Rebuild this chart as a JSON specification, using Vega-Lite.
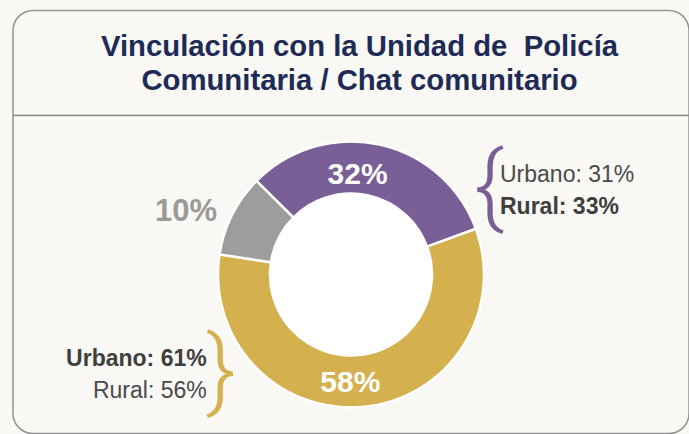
{
  "$schema": "https://vega.github.io/schema/vega-lite/v6.json",
  "background": "#f9f8f4",
  "padding": {"left": 12, "top": 9.5, "right": 0, "bottom": 0},
  "spacing": 0,
  "bounds": "flush",
  "config": {
    "font": "Liberation Sans",
    "view": {"stroke": null, "fill": null}
  },
  "datasets": {
    "titulo": [
      {"texto": "Vinculación con la Unidad de\u00a0 Policía\nComunitaria / Chat comunitario"}
    ],
    "segmentos": [
      {"grupo": "A", "pct": 32},
      {"grupo": "B", "pct": 58},
      {"grupo": "C", "pct": 10}
    ],
    "desglose": [
      {"grupo": "A", "zona": "Urbano", "pct": 31},
      {"grupo": "A", "zona": "Rural", "pct": 33},
      {"grupo": "B", "zona": "Urbano", "pct": 61},
      {"grupo": "B", "zona": "Rural", "pct": 56}
    ]
  },
  "vconcat": [
    {
      "width": 676,
      "height": 105,
      "data": {"name": "titulo"},
      "layer": [
        {
          "mark": {
            "type": "rect",
            "fill": "#f9f8f4",
            "stroke": "#939393",
            "strokeWidth": 1.5,
            "cornerRadiusTopLeft": 20,
            "cornerRadiusTopRight": 20
          },
          "encoding": {}
        },
        {
          "mark": {
            "type": "text",
            "lineBreak": "\n",
            "lineHeight": 33.6,
            "fontSize": 29.3,
            "fontWeight": "bold",
            "color": "#1d2b56",
            "align": "center",
            "baseline": "alphabetic",
            "dx": 8.5,
            "dy": -6.6
          },
          "encoding": {"text": {"field": "texto", "type": "nominal"}}
        }
      ]
    },
    {
      "width": 676,
      "height": 318,
      "layer": [
        {
          "data": {"name": "titulo"},
          "mark": {
            "type": "rect",
            "fill": "#f9f8f4",
            "stroke": "#939393",
            "strokeWidth": 1.5,
            "cornerRadiusBottomLeft": 20,
            "cornerRadiusBottomRight": 20
          },
          "encoding": {}
        },
        {
          "data": {"name": "segmentos"},
          "transform": [
            {"stack": "pct", "groupby": [], "sort": [{"field": "grupo", "order": "ascending"}], "as": ["p0", "p1"]}
          ],
          "mark": {"type": "arc", "innerRadius": 0, "outerRadius": 82, "color": "white", "stroke": "white", "strokeWidth": 2},
          "encoding": {
            "theta": {"field": "p0", "type": "quantitative", "stack": null, "scale": {"domain": [0, 100], "range": [-0.7906, 5.4926]}},
            "theta2": {"field": "p1"}
          }
        },
        {
          "data": {"name": "segmentos"},
          "transform": [
            {"stack": "pct", "groupby": [], "sort": [{"field": "grupo", "order": "ascending"}], "as": ["p0", "p1"]}
          ],
          "mark": {"type": "arc", "innerRadius": 81, "outerRadius": 133, "stroke": "white", "strokeWidth": 2.5},
          "encoding": {
            "theta": {"field": "p0", "type": "quantitative", "stack": null, "scale": {"domain": [0, 100], "range": [-0.7906, 5.4926]}},
            "theta2": {"field": "p1"},
            "color": {"field": "grupo", "type": "nominal", "legend": null, "scale": {"domain": ["A", "B", "C"], "range": ["#7a5e96", "#d4b04e", "#9d9d9b"]}}
          }
        },
        {
          "data": {"name": "segmentos"},
          "transform": [
            {"stack": "pct", "groupby": [], "sort": [{"field": "grupo", "order": "ascending"}], "as": ["p0", "p1"]},
            {"calculate": "(datum.p0 + datum.p1) / 2", "as": "pmid"},
            {"calculate": "datum.pct + '%'", "as": "etiqueta"},
            {"filter": "datum.grupo == 'A'"}
          ],
          "mark": {"type": "text", "radius": 103, "fontSize": 30, "fontWeight": "bold", "color": "white", "align": "center", "baseline": "middle", "dx": -15.4, "dy": 1},
          "encoding": {
            "theta": {"field": "pmid", "type": "quantitative", "stack": null, "scale": {"domain": [0, 100], "range": [-0.7906, 5.4926]}},
            "text": {"field": "etiqueta", "type": "nominal"}
          }
        },
        {
          "data": {"name": "segmentos"},
          "transform": [
            {"stack": "pct", "groupby": [], "sort": [{"field": "grupo", "order": "ascending"}], "as": ["p0", "p1"]},
            {"calculate": "(datum.p0 + datum.p1) / 2", "as": "pmid"},
            {"calculate": "datum.pct + '%'", "as": "etiqueta"},
            {"filter": "datum.grupo == 'B'"}
          ],
          "mark": {"type": "text", "radius": 107, "fontSize": 30, "fontWeight": "bold", "color": "white", "align": "center", "baseline": "middle", "dx": -11.3, "dy": 2},
          "encoding": {
            "theta": {"field": "pmid", "type": "quantitative", "stack": null, "scale": {"domain": [0, 100], "range": [-0.7906, 5.4926]}},
            "text": {"field": "etiqueta", "type": "nominal"}
          }
        },
        {
          "data": {"name": "segmentos"},
          "transform": [
            {"stack": "pct", "groupby": [], "sort": [{"field": "grupo", "order": "ascending"}], "as": ["p0", "p1"]},
            {"calculate": "(datum.p0 + datum.p1) / 2", "as": "pmid"},
            {"calculate": "datum.pct + '%'", "as": "etiqueta"},
            {"filter": "datum.grupo == 'C'"}
          ],
          "mark": {"type": "text", "radius": 178, "fontSize": 31, "fontWeight": "bold", "color": "#9b9b99", "align": "center", "baseline": "middle", "dx": -6, "dy": 17},
          "encoding": {
            "theta": {"field": "pmid", "type": "quantitative", "stack": null, "scale": {"domain": [0, 100], "range": [-0.7906, 5.4926]}},
            "text": {"field": "etiqueta", "type": "nominal"}
          }
        },
        {
          "data": {"name": "desglose"},
          "transform": [
            {"filter": "datum.grupo == 'A' && datum.zona == 'Urbano'"},
            {"calculate": "datum.zona + ': ' + datum.pct + '%'", "as": "etiqueta"}
          ],
          "mark": {"type": "text", "fontSize": 23, "fontWeight": "normal", "color": "#4a4a4a", "align": "left", "baseline": "alphabetic", "dx": 149, "dy": -92.5},
          "encoding": {"text": {"field": "etiqueta", "type": "nominal"}}
        },
        {
          "data": {"name": "desglose"},
          "transform": [
            {"filter": "datum.grupo == 'A' && datum.zona == 'Rural'"},
            {"calculate": "datum.zona + ': ' + datum.pct + '%'", "as": "etiqueta"}
          ],
          "mark": {"type": "text", "fontSize": 23, "fontWeight": "bold", "color": "#3f3f3f", "align": "left", "baseline": "alphabetic", "dx": 149, "dy": -60.2},
          "encoding": {"text": {"field": "etiqueta", "type": "nominal"}}
        },
        {
          "data": {"name": "desglose"},
          "transform": [
            {"filter": "datum.grupo == 'B' && datum.zona == 'Urbano'"},
            {"calculate": "datum.zona + ': ' + datum.pct + '%'", "as": "etiqueta"}
          ],
          "mark": {"type": "text", "fontSize": 23, "fontWeight": "bold", "color": "#3f3f3f", "align": "right", "baseline": "alphabetic", "dx": -144.3, "dy": 91.5},
          "encoding": {"text": {"field": "etiqueta", "type": "nominal"}}
        },
        {
          "data": {"name": "desglose"},
          "transform": [
            {"filter": "datum.grupo == 'B' && datum.zona == 'Rural'"},
            {"calculate": "datum.zona + ': ' + datum.pct + '%'", "as": "etiqueta"}
          ],
          "mark": {"type": "text", "fontSize": 23, "fontWeight": "normal", "color": "#4a4a4a", "align": "right", "baseline": "alphabetic", "dx": -144.3, "dy": 123.1},
          "encoding": {"text": {"field": "etiqueta", "type": "nominal"}}
        },
        {
          "data": {"name": "segmentos"},
          "transform": [{"filter": "datum.grupo == 'A'"}],
          "mark": {"type": "text", "text": "{", "font": "Roboto", "fontWeight": 300, "fontSize": 90, "color": "#7a5e96", "align": "center", "baseline": "middle", "dx": 138, "dy": -86},
          "encoding": {}
        },
        {
          "data": {"name": "segmentos"},
          "transform": [{"filter": "datum.grupo == 'B'"}],
          "mark": {"type": "text", "text": "}", "font": "Roboto", "fontWeight": 300, "fontSize": 90, "color": "#d4b04e", "align": "center", "baseline": "middle", "dx": -130, "dy": 98},
          "encoding": {}
        }
      ]
    }
  ]
}
